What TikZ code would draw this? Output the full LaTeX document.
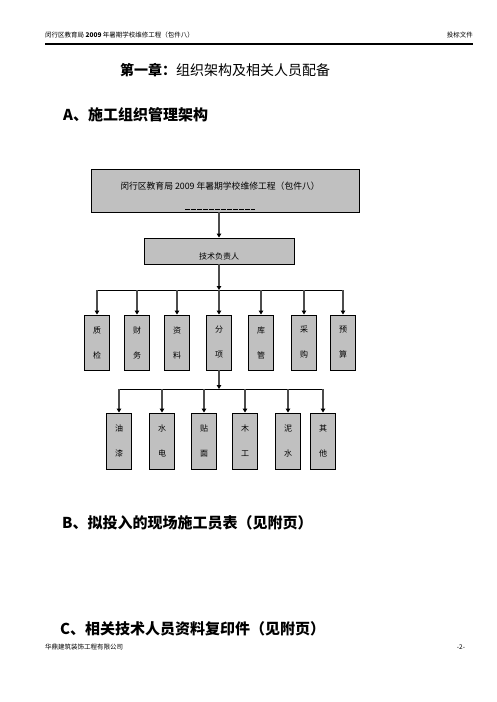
\documentclass[tikz,border=0pt]{standalone}
\usepackage{fontspec}
\newfontfamily\cjk{Noto Sans CJK SC}
\usetikzlibrary{arrows.meta}
\definecolor{boxgray}{HTML}{C0C0C0}
\tikzset{
  box/.style={draw=black, line width=0.9pt, fill=boxgray, inner sep=0pt},
  vbox/.style={box, minimum width=25pt, align=center, font={\cjk\fontsize{8}{25}\selectfont}},
  conn/.style={draw=gray!60!black, line width=1.3pt, -{Triangle[length=4pt,width=4.5pt,color=black]}},
  bar/.style={draw=black, line width=0.8pt},
  small/.style={font={\cjk\fontsize{6.5}{8}\selectfont}, inner sep=0pt},
  head/.style={font={\cjk\bfseries\fontsize{15}{18}\selectfont}, inner sep=0pt, anchor=west},
}
\begin{document}
\begin{tikzpicture}[x=1pt,y=-1pt]
\useasboundingbox (0,0) rectangle (496,702);
% page header
\node[small, anchor=west] (hl) at (45,35) {闵行区教育局 \textbf{2009} 年暑期学校维修工程（包件八）};
\node[small, anchor=east] (hr) at (473,35) {投标文件};
\coordinate (hla) at (45,44);
\coordinate (hlb) at (473,44);
\draw[line width=1.3pt] (hla) -- (hlb);
% title
\node[font={\cjk\fontsize{14}{16}\selectfont}, inner sep=0pt] (title) at (225,70) {\textbf{第一章：}组织架构及相关人员配备};
\node[head] (ha) at (63,115) {A、施工组织管理架构};
% chart
\node[box, minimum width=268pt, minimum height=43pt] (top) at (225,190.5) {};
\node[font={\cjk\fontsize{8.8}{10}\selectfont}, inner sep=0pt] (toptext) at (220,186) {闵行区教育局 2009 年暑期学校维修工程（包件八）};
\draw[line width=0.6pt, dash pattern=on 5pt off 1pt] (185,209) -- (255,209);
\node[box, minimum width=150pt, minimum height=26pt] (tech) at (219,251) {};
\node[font={\cjk\fontsize{8}{9}\selectfont}, inner sep=0pt] (techtext) at (219,256.5) {技术负责人};
\draw[conn] (tech.north |- top.south) -- (tech.north);
\coordinate (j1) at (219,290);
\coordinate (b1L) at (97,290);
\coordinate (b1R) at (343,290);
\draw[conn] (tech.south) -- (j1);
\draw[bar] (b1L) -- (b1R);
\foreach \n/\x/\t in {zj/97/质\\检, cw/137/财\\务, zl/177/资\\料, fx/219/分\\项, kg/261/库\\管, cg/304/采\\购, ys/343/预\\算}{
  \node[vbox, minimum height=55pt] (\n) at (\x,342.5) {\t};
  \draw[conn] (\n.north |- j1) -- (\n.north);
}
\coordinate (j2) at (219,389);
\coordinate (b2L) at (119,389);
\coordinate (b2R) at (323,389);
\draw[conn] (fx.south) -- (j2);
\draw[bar] (b2L) -- (b2R);
\foreach \n/\x/\t in {yq/119/油\\漆, sd/162/水\\电, tm/204/贴\\面, mg/245/木\\工, ns/288/泥\\水, qt/323/其\\他}{
  \node[vbox, minimum height=56pt] (\n) at (\x,441) {\t};
  \draw[conn] (\n.north |- j2) -- (\n.north);
}
% sections
\node[head] (hb) at (62,523) {B、拟投入的现场施工员表（见附页）};
\node[head] (hc) at (60,629) {C、相关技术人员资料复印件（见附页）};
% footer
\node[small, anchor=west] (fl) at (45,647) {华鼎建筑装饰工程有限公司};
\node[small] (fr) at (461,647) {-2-};
\end{tikzpicture}
\end{document}
